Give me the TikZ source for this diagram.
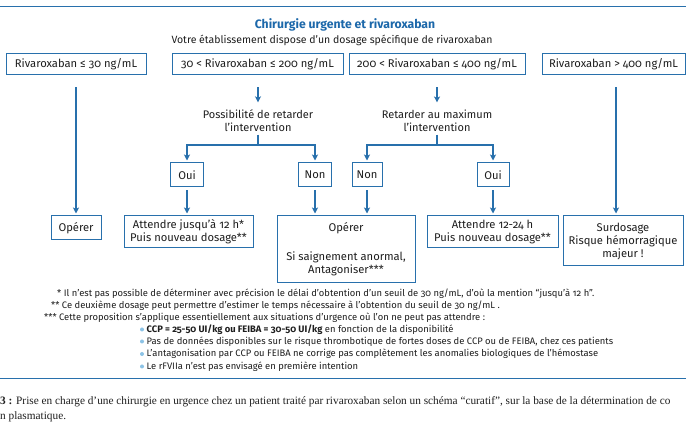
\documentclass[tikz,border=0pt]{standalone}
\usepackage{fontspec}
\setmainfont{Fira Sans}[Numbers=OldStyle]
\newfontfamily\capfont{Liberation Serif}
\usetikzlibrary{arrows.meta}
\definecolor{rblue}{RGB}{40,112,172}
\definecolor{tblue}{RGB}{28,104,170}
\definecolor{lblue}{RGB}{140,195,230}
\definecolor{txt}{RGB}{30,30,30}
\tikzset{
  box/.style={draw=rblue, line width=1pt, fill=white, inner sep=0pt, align=center, text=txt,
    font=\fontsize{11.2}{13}\selectfont},
  dtext/.style={inner sep=3pt, align=center, text=txt, font=\fontsize{11}{13}\selectfont},
  conn/.style={draw=rblue, line width=1.1pt},
  arr/.style={conn, -{Stealth[length=6pt,width=6pt,inset=1.5pt]}},
  fn/.style={inner sep=0pt, anchor=west, text=txt, font=\fontsize{9.4}{11}\selectfont},
  bul/.style={circle, fill=lblue, inner sep=0pt, minimum size=4pt},
  captext/.style={inner sep=0pt, anchor=west, text=txt, font=\capfont\fontsize{11.3}{13}\selectfont},
}
\begin{document}
\begin{tikzpicture}[x=1pt,y=-1pt]
\clip (0,0) rectangle (686,430);
\fill[white] (0,0) rectangle (686,430);
% top rule
\draw[rblue, line width=0.8pt] (0,6) -- (686,6);
% title
\node[inner sep=0pt, text=tblue, font=\bfseries\fontsize{12.2}{14}\selectfont] (title) at (345,25) {Chirurgie urgente et rivaroxaban};
\node[inner sep=0pt, text=txt, font=\fontsize{10.5}{12}\selectfont] (sub) at (332,40) {Votre établissement dispose d’un dosage spécifique de rivaroxaban};
% first row
\node[box, minimum width=140, minimum height=21] (b1) at (76,64.5) {Rivaroxaban ≤ 30 ng/mL};
\node[box, minimum width=171, minimum height=21] (b2) at (257.5,64.5) {30 < Rivaroxaban ≤ 200 ng/mL};
\node[box, minimum width=176, minimum height=21] (b3) at (437,64.5) {200 < Rivaroxaban ≤ 400 ng/mL};
\node[box, minimum width=143, minimum height=21] (b4) at (613.5,64.5) {Rivaroxaban > 400 ng/mL};
% decisions
\node[dtext] (d1) at (258,120.5) {Possibilité de retarder\\l’intervention};
\node[dtext] (d2) at (437,120.5) {Retarder au maximum\\l’intervention};
\coordinate (j1) at (258,145);
\coordinate (j2) at (437,145);
% yes / no
\node[box, minimum width=33, minimum height=24] (oui1) at (187,175) {Oui};
\node[box, minimum width=33, minimum height=24] (non1) at (315,175) {Non};
\node[box, minimum width=30, minimum height=24] (non2) at (367,175) {Non};
\node[box, minimum width=32, minimum height=24] (oui2) at (493,175) {Oui};
% second row
\node[box, minimum width=50, minimum height=24] (op1) at (76,228) {Opérer};
\node[box, minimum width=129, minimum height=32] (att1) at (188.5,232) {Attendre jusqu’à 12 h*\\Puis nouveau dosage**};
\node[box, minimum width=138, minimum height=67] (big) at (346,249.5) {Opérer\\[16pt]Si saignement anormal,\\Antagoniser***};
\node[box, minimum width=131, minimum height=32] (att2) at (492.5,232) {Attendre 12-24 h\\Puis nouveau dosage**};
\node[box, minimum width=120, minimum height=50] (surd) at (623,241) {Surdosage\\Risque hémorragique\\majeur !};
% connectors
\draw[arr, shorten >=2pt] ([yshift=-12pt]b1.south) -- (b1.south |- op1.north);
\draw[arr, shorten >=2pt] ([xshift=2.5pt,yshift=-12pt]b4.south) -- ([xshift=2.5pt]b4.south |- surd.north);
\draw[arr, shorten >=4pt] ([xshift=0.5pt,yshift=-12pt]b2.south) -- (d1.north);
\draw[arr, shorten >=4pt] ([yshift=-12pt]b3.south) -- (d2.north);
\draw[conn] (d1.south) -- (j1);
\draw[conn] (d2.south) -- (j2);
\draw[arr, shorten >=2pt] (j1) -| (oui1.north);
\draw[arr, shorten >=2pt] (j1) -| (non1.north);
\draw[arr, shorten >=2pt] (j2) -| (non2.north);
\draw[arr, shorten >=2pt] (j2) -| (oui2.north);
\draw[arr, shorten <=3pt, shorten >=2pt] (oui1.south) -- (oui1.south |- att1.north);
\draw[arr, shorten <=3pt, shorten >=2pt] (non1.south) -- (non1.south |- big.north);
\draw[arr, shorten <=3pt, shorten >=2pt] (non2.south) -- (non2.south |- big.north);
\draw[arr, shorten <=3pt, shorten >=2pt] (oui2.south) -- (oui2.south |- att2.north);
% footnotes
\node[fn] (f1) at (57,294) {* Il n’est pas possible de déterminer avec précision le délai d’obtention d’un seuil de 30 ng/mL, d’où la mention “jusqu’à 12 h”.};
\node[fn] (f2) at (51,306) {** Ce deuxième dosage peut permettre d’estimer le temps nécessaire à l’obtention du seuil de 30 ng/mL .};
\node[fn] (f3) at (44,318) {*** Cette proposition s’applique essentiellement aux situations d’urgence où l’on ne peut pas attendre :};
\node[bul] (u1) at (142,329.5) {};
\node[bul] (u2) at (142,341.5) {};
\node[bul] (u3) at (142,354) {};
\node[bul] (u4) at (142,366.5) {};
\node[fn] (g1) at (146.5,329.5) {\textbf{CCP = 25-50 UI/kg ou FEIBA = 30-50 UI/kg} en fonction de la disponibilité};
\node[fn] (g2) at (146.5,341.5) {Pas de données disponibles sur le risque thrombotique de fortes doses de CCP ou de FEIBA, chez ces patients};
\node[fn] (g3) at (146.5,354) {L’antagonisation par CCP ou FEIBA ne corrige pas complètement les anomalies biologiques de l’hémostase};
\node[fn] (g4) at (146.5,366.5) {Le rFVIIa n’est pas envisagé en première intention};
% separator
\draw[rblue, line width=0.9pt] (0,378) -- (686,378);
% caption
\node[captext] (c1) at (0,402) {\textbf{3 :} Prise en charge d’une chirurgie en urgence chez un patient traité par rivaroxaban selon un schéma “curatif”, sur la base de la détermination de co};
\node[captext] (c2) at (0,417) {n plasmatique.};
\end{tikzpicture}
\end{document}
